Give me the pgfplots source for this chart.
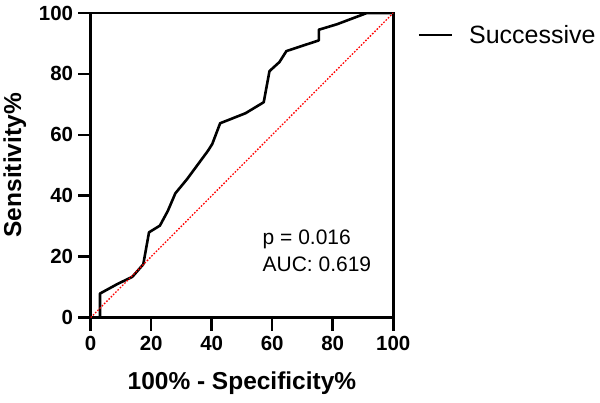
\documentclass[border=0pt]{standalone}
\usepackage{pgfplots}
\pgfplotsset{compat=1.18}
\usepackage{fontspec}
\setmainfont{Liberation Sans}
\begin{document}
\begin{tikzpicture}
\begin{axis}[
  name=ax,
  scale only axis,
  width=303bp, height=305bp,
  xmin=0, xmax=100, ymin=0, ymax=100,
  xtick={0,20,40,60,80,100},
  ytick={0,20,40,60,80,100},
  tick pos=lower,
  tick align=inside,
  tickwidth=-13bp,
  axis line style={line width=2.6bp},
  tick style={black, line width=2.6bp},
  /pgf/number format/assume math mode=true,
  ticklabel style={font=\fontsize{20.5bp}{24bp}\selectfont\bfseries},
  xticklabel style={yshift=-15bp},
  yticklabel style={xshift=-14bp},
  xlabel={100\% - Specificity\%},
  ylabel={Sensitivity\%},
  label style={font=\fontsize{24.5bp}{28bp}\selectfont\bfseries},
  xlabel style={yshift=-14bp},
  ylabel style={yshift=6bp},
  legend style={at={(1.08,0.928)}, anchor=west, draw=none, fill=none,
    inner sep=0pt, font=\fontsize{25bp}{29bp}\selectfont,
    legend cell align=left},
  legend image code/.code={\draw[#1] (0bp,0bp) -- (33bp,0bp);},
]
\addplot[black, line width=2.6bp, line join=round] coordinates {
(0,0) (3.1,0) (3.1,7.9) (8.8,11) (13.8,13.4) (17.4,17.5) (19.3,28)
(22.9,30.2) (25.5,35) (28,40.8) (31.9,45.5) (38.8,54.8) (40.2,57)
(42.8,63.8) (51.2,67.1) (57.2,70.7) (59.1,80.9) (62.4,83.9) (64.7,87.5)
(75.4,91) (75.4,94.5) (81.4,96.3) (91.3,100) (100,100)
};
\addlegendentry{\hspace{14bp}Successive}
\addplot[red, line width=1.3bp, dash pattern=on 1.6bp off 1.6bp, forget plot] coordinates {(0,0) (100,100)};
\node[anchor=base west, inner sep=0pt, font=\fontsize{21bp}{25bp}\selectfont] at (axis cs:56.8,24) {p = 0.016};
\node[anchor=base west, inner sep=0pt, font=\fontsize{21bp}{25bp}\selectfont] at (axis cs:56.8,15.1) {AUC: 0.619};
\end{axis}
\path ([xshift=-90bp,yshift=-85bp]ax.south west) rectangle ([xshift=207bp,yshift=13bp]ax.north east);
\end{tikzpicture}
\end{document}
